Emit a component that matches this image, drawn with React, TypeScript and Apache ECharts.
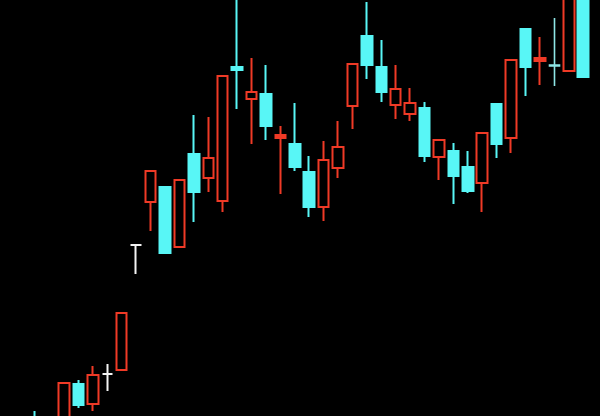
import React, { useEffect, useRef } from "react";
import * as echarts from "echarts";

// Candle data: [open, close, low, high] in price units (chart spans 0..416)
const opens = [-4, -54, -9, 32, 12, 42, 46, 171, 214, 229, 169, 262, 238, 215, 349, 317, 322, 278, 272, 244, 209, 248, 310, 380, 349, 311, 302, 308, 259, 265, 249, 233, 312, 278, 387, 355, 351, 345, 436];
const closes = [-24, -14, 33, 11, 41, 42, 103, 171, 245, 163, 236, 224, 258, 340, 346, 324, 290, 281, 249, 209, 256, 269, 352, 351, 324, 327, 313, 260, 276, 240, 225, 283, 272, 356, 349, 358, 350, 446, 339];
const lows = [-34, -59, -14, 8, 5, 25, 45, 142, 185, 163, 169, 194, 224, 204, 307, 272, 276, 222, 245, 199, 195, 238, 287, 337, 314, 297, 295, 254, 236, 212, 223, 204, 258, 263, 320, 331, 330, 345, 339];
const highs = [5, -9, 34, 36, 50, 52, 103, 171, 245, 229, 236, 301, 299, 340, 425, 358, 351, 290, 313, 260, 275, 295, 352, 414, 376, 351, 328, 314, 276, 273, 265, 283, 312, 356, 387, 379, 398, 456, 446];
// special colour marks: "w" = white doji, "c" = cyan doji, "p" = pale cyan doji, "r" = red doji
const specials: Record<number, string> = { 5: "w", 7: "w", 14: "c", 17: "r", 35: "r", 36: "p" };
const categories = opens.map((_, i) => `D${i + 1}`);

const RED = "#f03a26";
const CYAN = "#58f6f6";
const PALE = "#8ee6e6";
const WHITE = "#f4f4f4";

export default function App() {
  const ref = useRef<HTMLDivElement>(null);
  useEffect(() => {
    if (!ref.current) return;
    const chart = echarts.init(ref.current, undefined, { renderer: "svg" });
    const data = opens.map((o, i) => {
      const value = [o, closes[i], lows[i], highs[i]];
      const s = specials[i];
      if (!s) return value;
      const c = s === "w" ? WHITE : s === "c" ? CYAN : s === "p" ? PALE : RED;
      return {
        value,
        itemStyle: {
          color: c,
          color0: c,
          borderColor: c,
          borderColor0: c,
          borderColorDoji: c,
          borderWidth: s === "p" ? 1.6 : 2,
        },
      };
    });
    chart.setOption({
      animation: false,
      backgroundColor: "#000000",
      grid: { left: 28, right: 9.6, top: 0, bottom: 0 },
      xAxis: {
        type: "category",
        data: categories,
        boundaryGap: true,
        show: false,
      },
      yAxis: {
        type: "value",
        min: 0,
        max: 416,
        show: false,
        splitLine: { show: false },
      },
      series: [
        {
          type: "candlestick",
          clip: true,
          barWidth: 11,
          data,
          itemStyle: {
            color: "#000000",
            color0: CYAN,
            borderColor: RED,
            borderColor0: CYAN,
            borderWidth: 2,
          },
        },
      ],
    });
    return () => chart.dispose();
  }, []);
  return (
    <div
      ref={ref}
      style={{ position: "absolute", left: 0, top: 0, width: 600, height: 416, background: "#000" }}
    />
  );
}
